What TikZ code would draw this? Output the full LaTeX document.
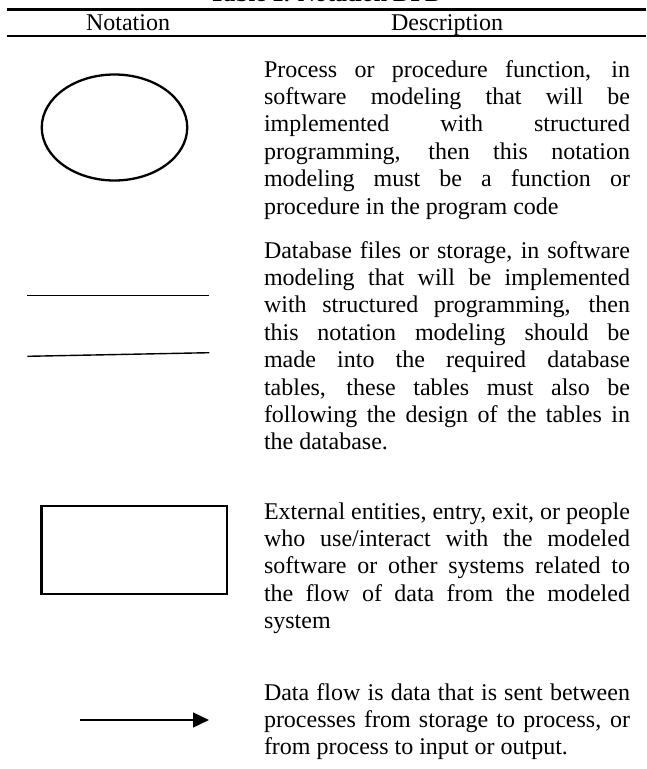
\documentclass[tikz,border=0pt]{standalone}
\usepackage{fontspec}
\setmainfont{Liberation Serif}
\usetikzlibrary{shapes.geometric,arrows.meta}
% one justified line of a description, and its free-width last line
\newcommand\jl[1]{\hbox to 366pt{#1}}
\newcommand\lastline[1]{\hbox{#1}}
\begin{document}
\begin{tikzpicture}[x=1pt,y=-1pt,
  txt/.style={font=\fontsize{24}{27.4}\selectfont, inner sep=0pt, outer sep=0pt},
  body/.style={txt, anchor=base west},
  head/.style={txt, anchor=base},
  rule/.style={line width=2.5pt},
  symb/.style={draw, line width=2.3pt, inner sep=0pt, outer sep=0pt},
  store/.style={line width=1.4pt},
  flow/.style={line width=2.5pt, -{Triangle[length=16pt,width=14.7pt]}}
]
\useasboundingbox (0,0) rectangle (646,769);
\clip (0,0) rectangle (646,769);

% caption and header rules
\node[head, font={\fontsize{24}{27.4}\selectfont\bfseries}] (title) at (326,1.5) {Table 1. Notation DFD};
\draw[rule] (6.5,9.5) -- (646,9.5);
\node[head] (hnot) at (128,30.7) {Notation};
\node[head] (hdesc) at (447,30.7) {Description};
\draw[rule] (6.5,36) -- (646,36);

% process
\node[symb, ellipse, minimum width=145.5pt, minimum height=106pt] (proc) at (114.5,127.5) {};
\node[body] (d1) at (264,77) {\vtop{%
  \jl{Process or procedure function, in}
  \jl{software modeling that will be}
  \jl{implemented with structured}
  \jl{programming, then this notation}
  \jl{modeling must be a function or}
  \lastline{procedure in the program code}}};

% data store
\coordinate (s1a) at (27.3,295.3);
\coordinate (s1b) at (209.3,295.3);
\coordinate (s2a) at (27.3,356.3);
\coordinate (s2b) at (209.3,352.7);
\draw[store] (s1a) -- (s1b);
\draw[store] (s2a) -- (s2b);
\node[body] (d2) at (264,258) {\vtop{%
  \jl{Database files or storage, in software}
  \jl{modeling that will be implemented}
  \jl{with structured programming, then}
  \jl{this notation modeling should be}
  \jl{made into the required database}
  \jl{tables, these tables must also be}
  \jl{following the design of the tables in}
  \lastline{the database.}}};

% external entity
\node[symb, rectangle, minimum width=185.5pt, minimum height=88pt] (ent) at (134.3,550) {};
\node[body] (d3) at (264,519) {\vtop{%
  \jl{External entities, entry, exit, or people}
  \jl{who use/interact with the modeled}
  \jl{software or other systems related to}
  \jl{the flow of data from the modeled}
  \lastline{system}}};

% data flow
\coordinate (fa) at (80,720);
\coordinate (fb) at (209,720);
\draw[flow] (fa) -- (fb);
\node[body] (d4) at (264,700) {\vtop{%
  \jl{Data flow is data that is sent between}
  \jl{processes from storage to process, or}
  \lastline{from process to input or output.}}};
\end{tikzpicture}
\end{document}
